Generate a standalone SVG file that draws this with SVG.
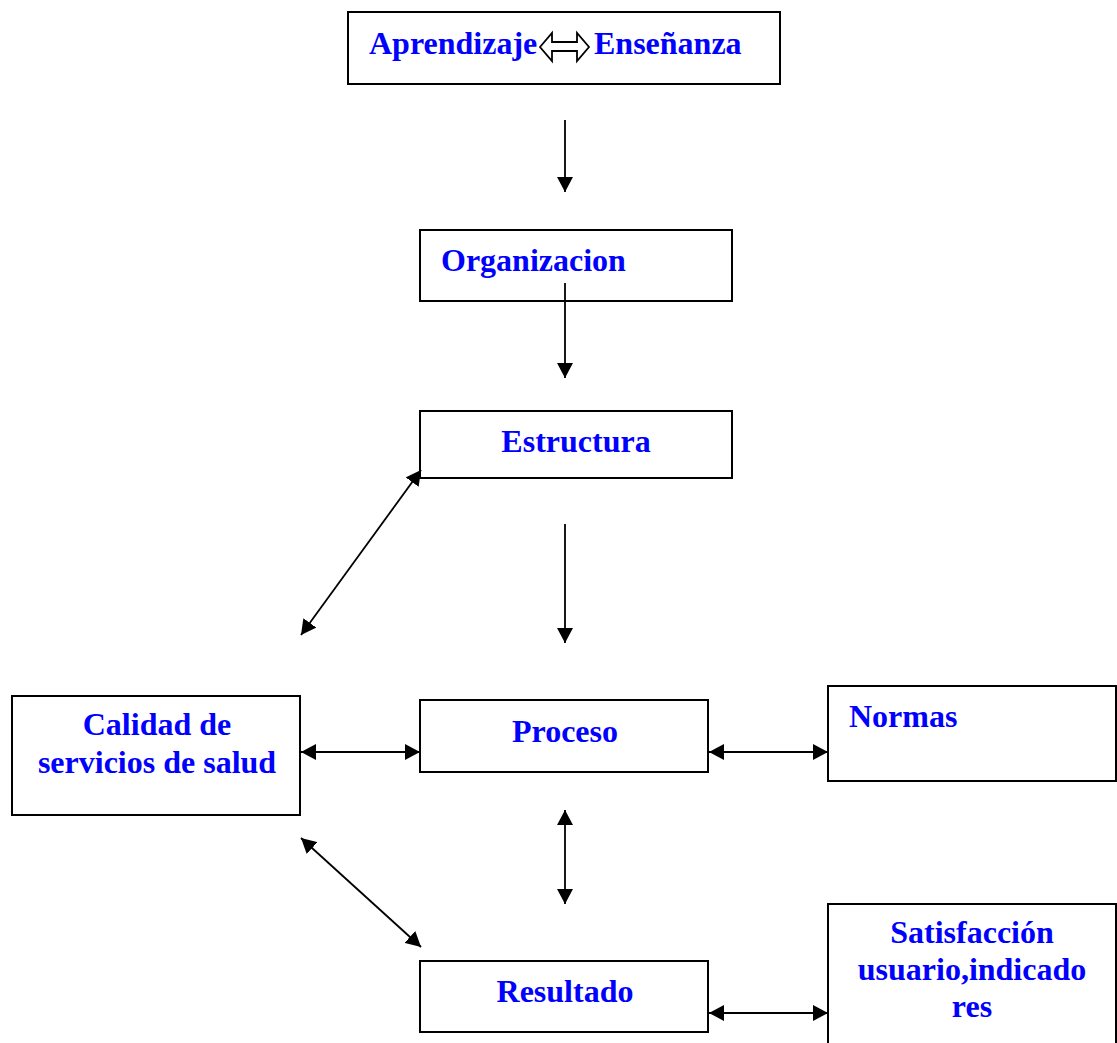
<svg xmlns="http://www.w3.org/2000/svg" width="1117" height="1043" viewBox="0 0 1117 1043">
<style>
.box{fill:#fff;stroke:#000;stroke-width:2}
.t{font-family:"Liberation Serif","Times New Roman",serif;font-weight:bold;font-size:32px;fill:#0000ff}
.c{text-anchor:middle}
.ln{stroke:#000;stroke-width:1.8;fill:none}
</style>
<defs>
<marker id="ah" viewBox="0 0 15 16" refX="15" refY="8" markerWidth="15" markerHeight="16" markerUnits="userSpaceOnUse" orient="auto-start-reverse">
<path d="M0,0 L15,8 L0,16 z" fill="#000"/>
</marker>
</defs>
<rect width="1117" height="1043" fill="#fff"/>
<g id="aprendizaje">
<rect class="box" x="348" y="12" width="432" height="72"/>
<text class="t" x="369" y="54">Aprendizaje</text>
<polygon points="540,47 552,33 552,42 577,42 577,33 589,47 577,61 577,51 552,51 552,61" fill="#fff" stroke="#000" stroke-width="1.8"/>
<text class="t" x="594" y="54">Enseñanza</text>
</g>
<g id="organizacion">
<rect class="box" x="420" y="230" width="312" height="71"/>
<text class="t" x="441" y="271">Organizacion</text>
</g>
<g id="estructura">
<rect class="box" x="420" y="411" width="312" height="67"/>
<text class="t c" x="576" y="452">Estructura</text>
</g>
<g id="calidad">
<rect class="box" x="12" y="696" width="288" height="119"/>
<text class="t c" x="157" y="735">Calidad de</text>
<text class="t c" x="157" y="773">servicios de salud</text>
</g>
<g id="proceso">
<rect class="box" x="420" y="700" width="288" height="72"/>
<text class="t c" x="565" y="742">Proceso</text>
</g>
<g id="normas">
<rect class="box" x="828" y="686" width="288" height="95"/>
<text class="t" x="849" y="727">Normas</text>
</g>
<g id="resultado">
<rect class="box" x="420" y="961" width="288" height="71"/>
<text class="t c" x="565" y="1002">Resultado</text>
</g>
<g id="satisfaccion">
<rect class="box" x="828" y="904" width="288" height="145"/>
<text class="t c" x="972" y="943">Satisfacción</text>
<text class="t c" x="972" y="980">usuario,indicado</text>
<text class="t c" x="972" y="1017">res</text>
</g>
<g id="connectors">
<line class="ln" x1="565" y1="120" x2="565" y2="192" marker-end="url(#ah)"/>
<line class="ln" x1="565" y1="283" x2="565" y2="378" marker-end="url(#ah)"/>
<line class="ln" x1="565" y1="524" x2="565" y2="643" marker-end="url(#ah)"/>
<line class="ln" x1="421" y1="470" x2="301" y2="635" marker-start="url(#ah)" marker-end="url(#ah)"/>
<line class="ln" x1="301" y1="752" x2="420" y2="752" marker-start="url(#ah)" marker-end="url(#ah)"/>
<line class="ln" x1="709" y1="752" x2="828" y2="752" marker-start="url(#ah)" marker-end="url(#ah)"/>
<line class="ln" x1="565" y1="810" x2="565" y2="904" marker-start="url(#ah)" marker-end="url(#ah)"/>
<line class="ln" x1="301" y1="838" x2="421" y2="947" marker-start="url(#ah)" marker-end="url(#ah)"/>
<line class="ln" x1="709" y1="1013" x2="828" y2="1013" marker-start="url(#ah)" marker-end="url(#ah)"/>
</g>
</svg>
